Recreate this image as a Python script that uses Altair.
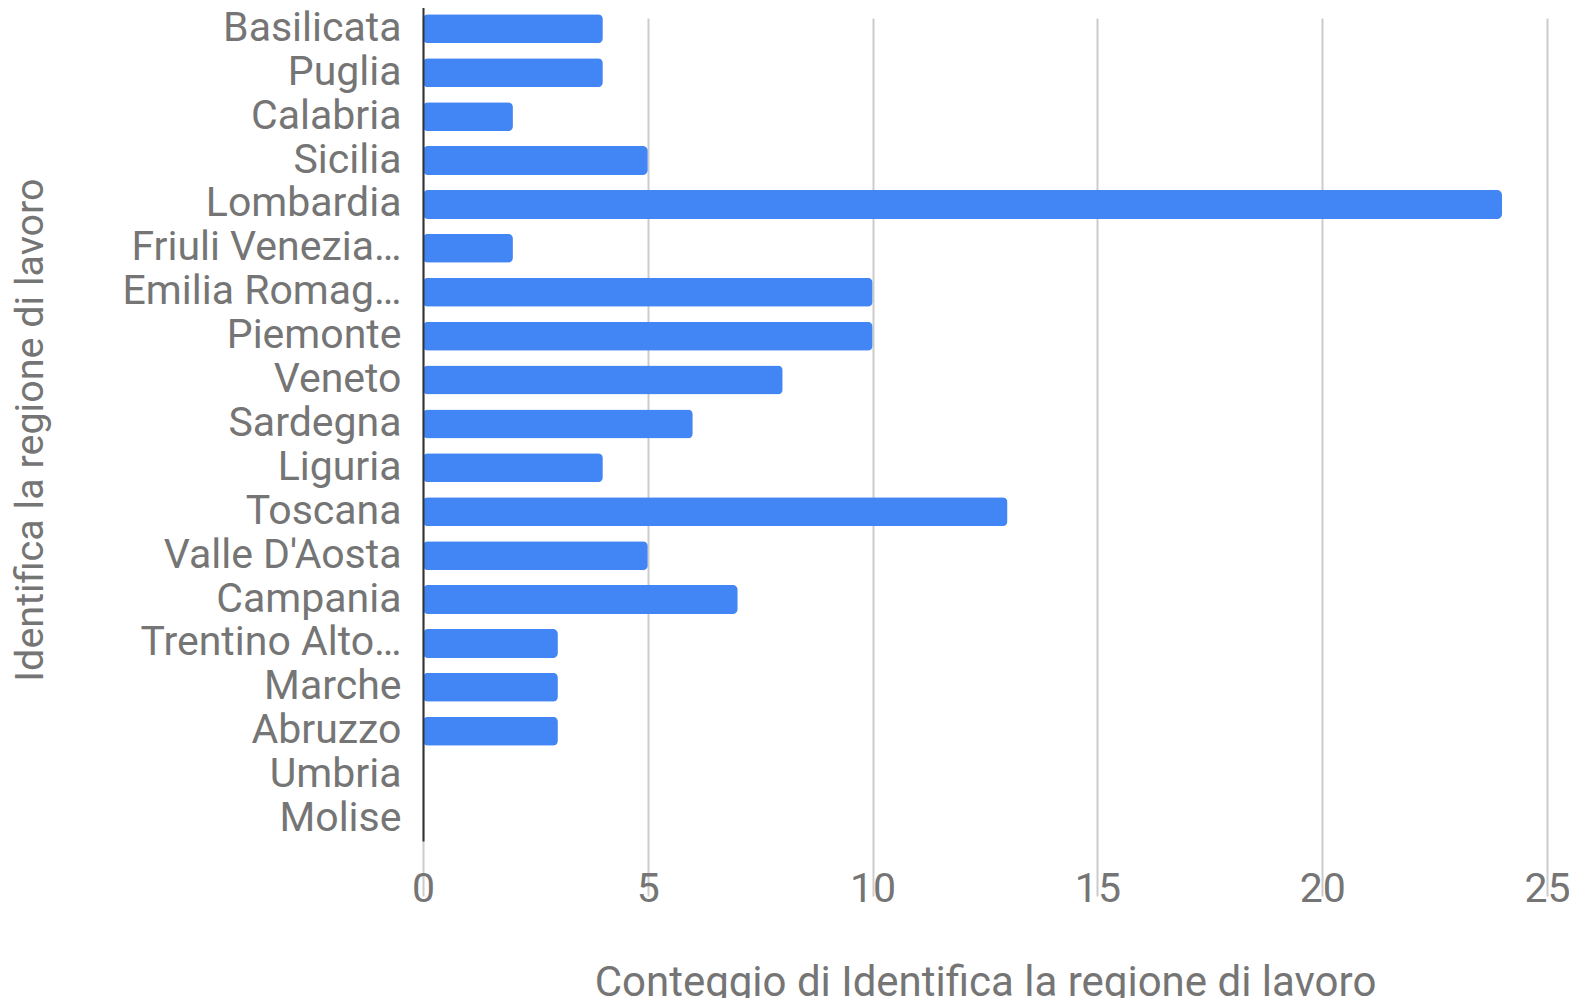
import altair as alt
import pandas as pd

regions = ["Lazio", "Basilicata", "Puglia", "Calabria", "Sicilia", "Lombardia",
           "Friuli Venezia…", "Emilia Romag…", "Piemonte", "Veneto", "Sardegna",
           "Liguria", "Toscana", "Valle D'Aosta", "Campania", "Trentino Alto…",
           "Marche", "Abruzzo", "Umbria", "Molise"]
counts = [15, 4, 4, 2, 5, 24, 2, 10, 10, 8, 6, 4, 13, 5, 7, 3, 3, 3, 0, 0]
x_ticks = [0, 5, 10, 15, 20, 25]

df = pd.DataFrame({"region": regions, "count": counts})

FONT = "Roboto"
GREY = "#757575"
FS = 41

chart = alt.Chart(df).mark_bar(color="#4285F4", cornerRadius=5).encode(
    x=alt.X(
        "count:Q",
        scale=alt.Scale(domain=[0, 25], nice=False),
        axis=alt.Axis(
            title="Conteggio di Identifica la regione di lavoro",
            values=x_ticks, grid=True, gridColor="#cccccc", gridWidth=2,
            domain=False, ticks=False, labelPadding=18, labelFlush=False,
            labelFont=FONT, labelFontSize=FS, labelColor=GREY,
            titleFont=FONT, titleFontSize=42, titleColor=GREY,
            titleFontWeight="normal", titleY=144, titleBaseline="alphabetic",
        ),
    ),
    y=alt.Y(
        "region:N", sort=regions,
        scale=alt.Scale(range=[-45, 833], paddingInner=0.34, paddingOuter=0.17),
        axis=alt.Axis(
            title="Identifica la regione di lavoro",
            ticks=False, labelPadding=22, domain=True, domainColor="#333333",
            domainWidth=2, zindex=1, labelLimit=0,
            labelFont=FONT, labelFontSize=FS, labelColor=GREY,
            titleFont=FONT, titleFontSize=39.5, titleColor=GREY,
            titleFontWeight="normal", titleAngle=270, titleX=-393,
            titleY=421.5, titleBaseline="middle", titleAlign="center",
        ),
    ),
).properties(
    width=1124, height=843,
    autosize=alt.AutoSizeParams(type="none"),
    padding={"left": 415, "top": 0, "right": 22, "bottom": 147},
).configure_view(stroke=None)

chart.save("out.html", embed_options={"renderer": "svg", "actions": False})
